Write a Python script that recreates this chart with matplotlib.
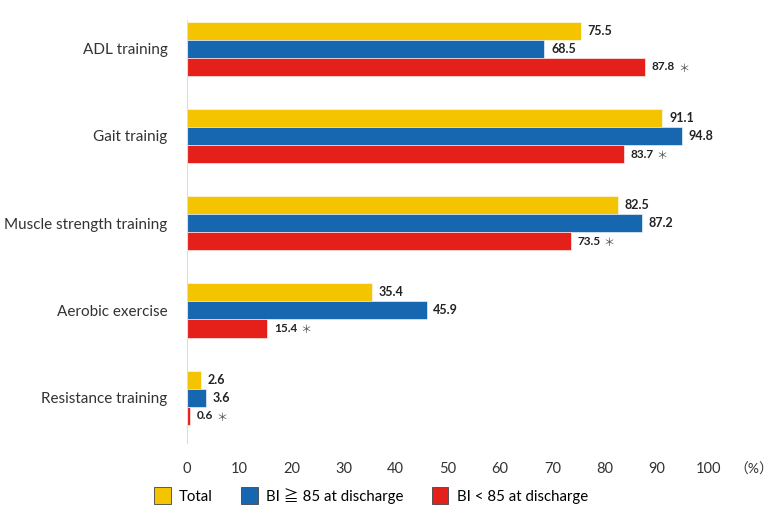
import numpy as np
import matplotlib.pyplot as plt
from matplotlib.patches import Patch

plt.rcParams['font.family'] = ['Lato', 'Noto Sans CJK JP', 'DejaVu Sans']

categories = ['ADL training', 'Gait trainig', 'Muscle strength training',
              'Aerobic exercise', 'Resistance training']
total = [75.5, 91.1, 82.5, 35.4, 2.6]
bi_high = [68.5, 94.8, 87.2, 45.9, 3.6]
bi_low = [87.8, 83.7, 73.5, 15.4, 0.6]
series_names = ['Total', 'BI \u2267 85 at discharge', 'BI < 85 at discharge']
colors = ['#F5C400', '#1666B0', '#E5201A']

fig = plt.figure(figsize=(7.73, 5.11), dpi=100)
ax = fig.add_axes([0.242, 0.133, 0.675, 0.828])

y = np.arange(len(categories))
h = 0.207
for i, (vals, col) in enumerate(zip([total, bi_high, bi_low], colors)):
    ax.barh(y + (i - 1) * h, vals, height=h, color=col, edgecolor='white', linewidth=0.4)
    for yy, v in zip(y, vals):
        if i == 2:
            t = ax.text(v + 1.3, yy + (i - 1) * h, f'{v}', va='center', ha='left',
                        fontsize=8.5, fontweight='bold', color='#222222')
            ax.annotate('\uff0a', xy=(1, 0.5), xycoords=t, xytext=(2, -1),
                        textcoords='offset points', va='center', ha='left',
                        fontsize=8, color='#555555')
        else:
            ax.text(v + 1.3, yy + (i - 1) * h, f'{v}', va='center', ha='left',
                    fontsize=9, fontweight='bold', color='#222222')

ax.set_ylim(len(categories) - 1 + 0.52, -0.33)
ax.set_xlim(0, 100)
ax.set_yticks(y)
ax.set_yticklabels(categories, fontsize=11, color='#222222')
ax.set_xticks(np.arange(0, 101, 10))
ax.tick_params(axis='both', length=0, labelsize=10.5, colors='#333333')
ax.tick_params(axis='y', pad=14, labelsize=11)
ax.tick_params(axis='x', pad=14)
for s in ['top', 'right', 'bottom']:
    ax.spines[s].set_visible(False)
ax.spines['left'].set_color('#dddddd')
ax.text(1.086, -0.062, '\uff08%\uff09', transform=ax.transAxes, ha='center',
        va='center', fontsize=10, color='#333333')

handles = [Patch(facecolor=c, edgecolor='#444444', linewidth=0.6) for c in colors]
fig.legend(handles, series_names, loc='center', bbox_to_anchor=(0.48, 0.03),
           ncol=3, frameon=False, fontsize=10.8, handlelength=1.1, handleheight=1.3,
           columnspacing=1.9, handletextpad=0.55)

fig.savefig('out.png', dpi=100)
